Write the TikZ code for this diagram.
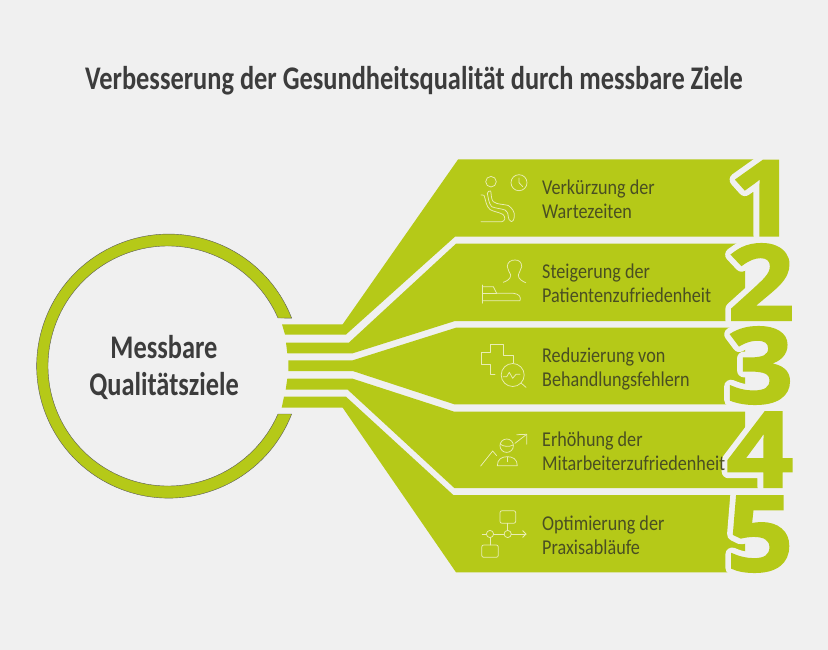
\documentclass[tikz,border=0pt]{standalone}
\usepackage{fontspec}
\setmainfont[FakeStretch=0.86]{Carlito}
\newfontfamily\headfont[FakeStretch=0.8]{Carlito}
\newfontfamily\digitfont[FakeStretch=1.12]{Open Sans}
\definecolor{bgc}{HTML}{F0F0F0}
\definecolor{leaf}{HTML}{B5C918}
\definecolor{icon}{HTML}{E9EDB4}
\definecolor{labelc}{HTML}{4A4F22}
\definecolor{titlec}{HTML}{3C3C3C}
\newcommand{\halotxt}[1]{\special{pdf:code q 2 Tr 13.5 w 1 j}#1\special{pdf:code 0 Tr Q}}
\newcommand{\heavytxt}[1]{\special{pdf:code q 2 Tr 2 w 0 j}#1\special{pdf:code 0 Tr Q}}
\tikzset{
  band/.style={fill=leaf,draw=none},
  ringpart/.style={fill=leaf,draw=black!65,line width=0.4pt},
  glyphline/.style={draw=icon,line width=0.75pt,line cap=round,line join=round,fill=none},
  numhalo/.style={inner sep=0pt,anchor=base,text=bgc,font=\digitfont\bfseries\fontsize{105}{105}\selectfont},
  num/.style={inner sep=0pt,anchor=base,text=leaf,font=\digitfont\bfseries\fontsize{105}{105}\selectfont},
  lab/.style={inner sep=0pt,anchor=north west,align=left,text=labelc,font=\fontsize{21.1}{24}\selectfont},
  headline/.style={inner sep=0pt,text=titlec,font=\headfont\bfseries\fontsize{33}{37}\selectfont,align=center}
}
\begin{document}
\begin{tikzpicture}[x=1pt,y=-1pt]
\useasboundingbox (0,0) rectangle (828,650);
\fill[bgc] (0,0) rectangle (828,650);
% ring
\path[ringpart] (168,366) ++(-23.6:120) arc[start angle=-23.6,delta angle=-312.8,radius=120]
  -- ++(13.7,0) arc[start angle=21.3,delta angle=317.4,radius=132] -- cycle;
% bands
\path[band] (282,324.3) -- (342.7,324.3) -- (458,159.5) -- (770,159.5) -- (770,236.7) -- (455,236.7) -- (346,334.5) -- (285,334.5) -- cycle;
\path[band] (286,342.5) -- (349,342.5) -- (456,243.7) -- (745,243.7) -- (745,321) -- (455,321) -- (352.7,353.3) -- (287.3,353.3) -- cycle;
\path[band] (288.3,360.3) -- (352.7,360.3) -- (456,327.7) -- (745,327.7) -- (745,404.3) -- (454.3,404.3) -- (352.7,371) -- (288.3,371) -- cycle;
\path[band] (287.3,378.7) -- (352.7,378.7) -- (454.3,411.7) -- (745,411.7) -- (745,472) -- (759,472) -- (759,488) -- (454.3,488) -- (347.7,389.7) -- (285.7,389.7) -- cycle;
\path[band] (284,396.7) -- (346,396.7) -- (453.3,495) -- (745,495) -- (745,572.3) -- (456,572.3) -- (342.7,407.7) -- (281.7,407.7) -- cycle;
% numerals
\node[numhalo] (h1) at (763,235.5) {\halotxt{1}};
\node[numhalo] (h2) at (761,320) {\halotxt{2}};
\node[numhalo] (h3) at (760,403) {\halotxt{3}};
\node[numhalo] (h4) at (760,487) {\halotxt{4}};
\node[numhalo] (h5) at (760,571) {\halotxt{5}};
\node[num] (n1) at (763,235.5) {\heavytxt{1}};
\node[num] (n2) at (761,320) {\heavytxt{2}};
\node[num] (n3) at (760,403) {\heavytxt{3}};
\node[num] (n4) at (760,487) {\heavytxt{4}};
\node[num] (n5) at (760,571) {\heavytxt{5}};
% titles
\node[headline,anchor=base] (title) at (414,90) {Verbesserung der Gesundheitsqualität durch messbare Ziele};
\node[headline,anchor=base] (c1) at (164,358) {Messbare};
\node[headline,anchor=base] (c2) at (164,395) {Qualitätsziele};
% labels
\node[lab] (l1) at (542,179.5) {Verkürzung der\\Wartezeiten};
\node[lab] (l2) at (542,263.5) {Steigerung der\\Patientenzufriedenheit};
\node[lab] (l3) at (542,347.5) {Reduzierung von\\Behandlungsfehlern};
\node[lab] (l4) at (542,431.5) {Erhöhung der\\Mitarbeiterzufriedenheit};
\node[lab] (l5) at (542,515.5) {Optimierung der\\Praxisabläufe};
% icon 1
\draw[glyphline] (491,181.7) circle[radius=5.3];
\draw[glyphline] (519,182.7) circle[radius=8];
\draw[glyphline] (519,178) -- (519,182.7) -- (522.7,186.7);
\draw[glyphline] (481,195) -- (484,195.2) .. controls (486,201) and (486,206) .. (490,209.5) .. controls (494,212) and (499,212) .. (503,214.5) .. controls (506,217) and (505,221.5) .. (501.7,221.7) -- (481,221.7);
\draw[glyphline] (490.7,191) .. controls (491.5,195) and (491,199) .. (493.3,201.7) .. controls (498,205) and (504,204) .. (508.3,205.5) .. controls (512,208) and (515,212) .. (514.3,216.5) .. controls (514,220) and (512.5,221.7) .. (511.5,221.7) .. controls (509,221.5) and (508.5,218) .. (508.3,216.7) .. controls (508,213) and (507,211) .. (505,210) .. controls (501,208.5) and (496,208.5) .. (491.7,206.7) .. controls (488.5,203) and (488.5,198) .. (487.3,193.3) .. controls (487.5,191.5) and (489.5,190.5) .. (490.7,191);
% icon 2
\draw[glyphline] (503.3,282.3) .. controls (507,281) and (510.7,279) .. (510.7,275) .. controls (510,272) and (507.3,270) .. (507.3,266.7) .. controls (507.3,262) and (511,260) .. (515,260) .. controls (519,260) and (521.7,262) .. (521.7,266.7) .. controls (521.7,270) and (518.3,272) .. (518.3,275) .. controls (518.3,279) and (522,281) .. (525.7,282.7);
\draw[glyphline] (482.3,285) -- (482.3,303.3);
\draw[glyphline] (482.3,286.7) -- (493.3,286.7) -- (496.7,293.3) -- (513.3,293.3) .. controls (519,293.8) and (521.5,297) .. (520,300.7) -- (482.3,300.7);
\draw[glyphline] (482.3,293.3) -- (496.7,293.3);
% icon 3
\draw[glyphline] (495,374.3) -- (490.7,374.3) -- (490.7,364.3) -- (481.7,364.3) -- (481.7,352.3) -- (490.7,352.3) -- (490.7,344.3) -- (503.3,344.3) -- (503.3,355.7) -- (513.3,355.7) -- (513.3,363);
\draw[glyphline] (512.7,375) circle[radius=11.5];
\draw[glyphline] (521,383) -- (526,387.3);
\draw[glyphline] (503.3,376.7) -- (506.7,376.7) -- (509.3,372.3) -- (512.7,378.3) -- (516,374.3) -- (520,374.3);
% icon 4
\draw[glyphline] (480.7,466) -- (492.7,451) -- (496.7,455.7);
\draw[glyphline] (506.7,445.7) circle[radius=6.7];
\draw[glyphline] (500,444) .. controls (504,447) and (509,447) .. (513.3,445);
\draw[glyphline] (497.3,465.7) .. controls (497.3,459) and (502,456.7) .. (507.3,456.7) .. controls (512.7,456.7) and (517.3,459) .. (517.3,465.7) -- cycle;
\draw[glyphline] (507.3,457) -- (507.3,461.7);
\draw[glyphline] (515,443.3) -- (526.7,434.3);
\draw[glyphline] (516.7,434.7) -- (526.7,434.3) -- (526.7,444.3);
% icon 5
\draw[glyphline,rounded corners=2pt] (500,510.7) rectangle (515.7,523.3);
\draw[glyphline,rounded corners=2pt] (481.7,545) rectangle (498.3,557.3);
\draw[glyphline] (507.7,523.3) -- (507.7,530.4);
\draw[glyphline] (490,537.6) -- (490,545);
\draw[glyphline] (490,534) circle[radius=3.6];
\draw[glyphline] (507.7,534) circle[radius=3.6];
\draw[glyphline] (482.3,534) -- (486.4,534);
\draw[glyphline] (493.6,534) -- (504.1,534);
\draw[glyphline] (511.3,534) -- (526,534);
\draw[glyphline] (522.7,530.7) -- (526,534) -- (522.7,537.3);
\end{tikzpicture}
\end{document}
